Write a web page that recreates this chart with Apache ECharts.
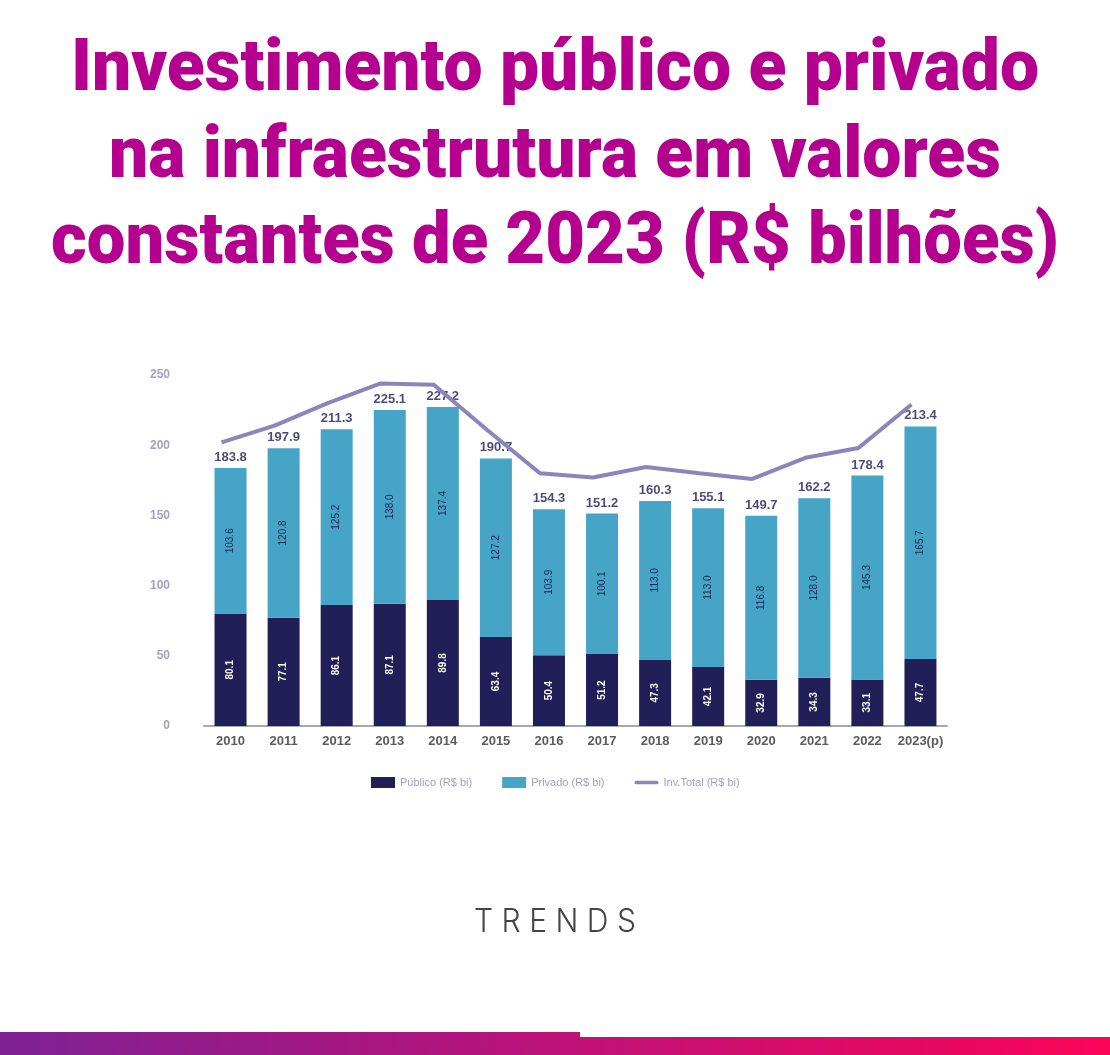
<!DOCTYPE html>
<html>
<head>
<meta charset="utf-8">
<script src="https://cdn.jsdelivr.net/npm/echarts@6/dist/echarts.min.js"></script>
<style>
html,body{margin:0;padding:0;background:#fff;}
#chart{width:1110px;height:1055px;}
</style>
</head>
<body>
<div id="chart"></div>
<script>
var categories = ['2010','2011','2012','2013','2014','2015','2016','2017','2018','2019','2020','2021','2022','2023(p)'];
var publico = [80.1, 77.1, 86.1, 87.1, 89.8, 63.4, 50.4, 51.2, 47.3, 42.1, 32.9, 34.3, 33.1, 47.7];
var privado = [103.6, 120.8, 125.2, 138.0, 137.4, 127.2, 103.9, 100.1, 113.0, 113.0, 116.8, 128.0, 145.3, 165.7];
var totais = [183.8, 197.9, 211.3, 225.1, 227.2, 190.7, 154.3, 151.2, 160.3, 155.1, 149.7, 162.2, 178.4, 213.4];
var invTotal = [202, 214, 230, 244, 243, 211, 180, 177, 184.5, 180, 176, 191, 198, 229];
var yTicks = [0, 50, 100, 150, 200, 250];
var titleLines = ['Investimento público e privado', 'na infraestrutura em valores', 'constantes de 2023 (R$ bilhões)'];
var seriesNames = ['Público (R$ bi)', 'Privado (R$ bi)', 'Inv.Total (R$ bi)'];

var titleFont = '900 72px Roboto';
var titleWidths = [968, 892, 1008];
var titleY = [72, 159, 245];
var cv = document.createElement('canvas').getContext('2d');
function fitScale(text, font, target) {
  cv.font = font;
  var w = cv.measureText(text).width;
  return w > 0 ? target / w : 1;
}
var graphics = [];
titleLines.forEach(function (t, i) {
  graphics.push({
    type: 'text', x: 555, y: titleY[i],
    scaleX: fitScale(t, titleFont, titleWidths[i]),
    style: { text: t, font: titleFont, fill: '#b5008f', textAlign: 'center', textVerticalAlign: 'middle' },
    silent: true
  });
});
var logoFont = '300 32px Inter';
graphics.push({
  type: 'text', x: 555, y: 922,
  scaleX: fitScale('T R E N D S', logoFont, 162),
  style: { text: 'T R E N D S', font: logoFont, fill: '#444444', textAlign: 'center', textVerticalAlign: 'middle' },
  silent: true
});
graphics.push({
  type: 'rect', shape: { x: 0, y: 1032, width: 580, height: 23 },
  style: { fill: new echarts.graphic.LinearGradient(0, 0, 1, 0, [{offset: 0, color: '#7e2194'}, {offset: 1, color: '#bf1177'}]) },
  silent: true
});
graphics.push({
  type: 'rect', shape: { x: 578, y: 1037, width: 532, height: 18 },
  style: { fill: new echarts.graphic.LinearGradient(0, 0, 1, 0, [{offset: 0, color: '#bf1177'}, {offset: 1, color: '#fb0457'}]) },
  silent: true
});

var chart = echarts.init(document.getElementById('chart'), null, { renderer: 'canvas' });
chart.setOption({
  backgroundColor: '#ffffff',
  animation: false,
  graphic: graphics,
  grid: [
    { left: 204, right: 163, top: 375, bottom: 329, containLabel: false },
    { left: 195, right: 172, top: 375, bottom: 329, containLabel: false }
  ],
  legend: {
    data: [
      { name: seriesNames[0], icon: 'rect' },
      { name: seriesNames[1], icon: 'rect' },
      { name: seriesNames[2], icon: 'path://M2,0 L24,0 A2,2 0 0 1 24,4 L2,4 A2,2 0 0 1 2,0 Z' }
    ],
    symbolKeepAspect: true,
    left: 366, top: 772,
    itemWidth: 24, itemHeight: 11, itemGap: 30,
    textStyle: { color: '#a3a0bd', fontSize: 11, fontFamily: 'Liberation Sans' }
  },
  xAxis: [
    {
      type: 'category', data: categories, gridIndex: 0,
      axisLine: { lineStyle: { color: '#a8a8a8', width: 2 } },
      axisTick: { show: false },
      axisLabel: { interval: 0, color: '#5c5c5c', fontWeight: 'bold', fontSize: 13, fontFamily: 'Liberation Sans', margin: 9 }
    },
    { type: 'category', data: categories, gridIndex: 1, show: false }
  ],
  yAxis: [
    {
      type: 'value', gridIndex: 0, min: yTicks[0], max: yTicks[yTicks.length - 1], interval: yTicks[1] - yTicks[0],
      splitLine: { show: false },
      axisLine: { show: false }, axisTick: { show: false },
      axisLabel: { color: '#a3a0c4', fontWeight: 'bold', fontSize: 12, fontFamily: 'Liberation Sans', margin: 34 }
    },
    {
      type: 'value', gridIndex: 1, min: yTicks[0], max: yTicks[yTicks.length - 1], interval: yTicks[1] - yTicks[0],
      show: false, splitLine: { show: false }
    }
  ],
  series: [
    {
      name: seriesNames[0], type: 'bar', stack: 'inv', data: publico, barWidth: 32,
      itemStyle: { color: '#211e58' },
      label: { show: true, position: 'inside', rotate: 90, color: '#ffffff', fontSize: 10, fontWeight: 'bold', fontFamily: 'Liberation Sans',
        formatter: function (p) { return p.value.toFixed(1); } }
    },
    {
      name: seriesNames[1], type: 'bar', stack: 'inv', data: privado, barWidth: 32,
      itemStyle: { color: '#46a4c7' },
      label: { show: true, position: 'inside', rotate: 90, color: '#1d2656', fontSize: 10, fontFamily: 'Liberation Sans',
        formatter: function (p) { return p.value.toFixed(1); } }
    },
    {
      name: 'totais', type: 'scatter', data: totais, symbolSize: 0, silent: true, z: 3,
      label: { show: true, position: 'top', distance: 4, color: '#1e1c52', fontWeight: 'bold', fontSize: 13, fontFamily: 'Liberation Sans',
        formatter: function (p) { return p.value.toFixed(1); } }
    },
    {
      name: seriesNames[2], type: 'line', data: invTotal, symbol: 'none', z: 4,
      xAxisIndex: 1, yAxisIndex: 1,
      lineStyle: { color: '#8c85ba', width: 4 }, itemStyle: { color: '#8c85ba' }
    }
  ]
});
</script>
</body>
</html>
